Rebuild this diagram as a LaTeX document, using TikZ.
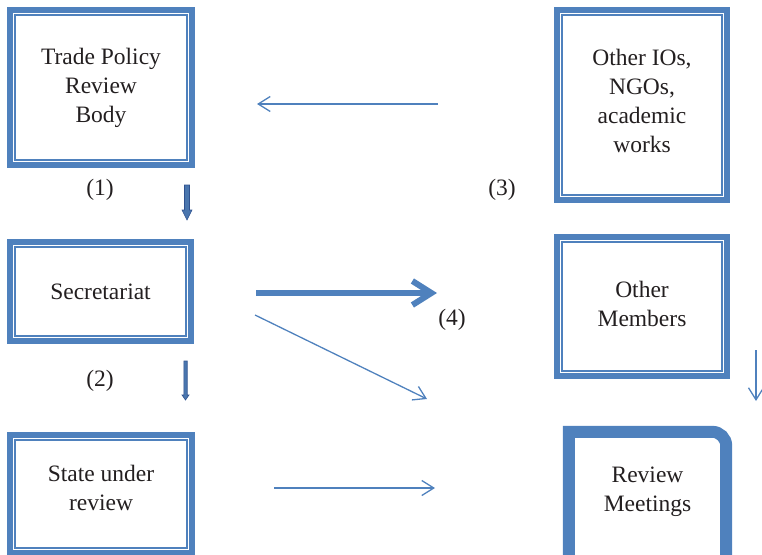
\documentclass[tikz,border=0pt]{standalone}
\usepackage{fontspec}
\setmainfont{Liberation Serif}
\usetikzlibrary{arrows.meta}
\definecolor{boxblue}{HTML}{4F81BD}
\definecolor{darkblue}{HTML}{2F528F}
\definecolor{arrowfill}{HTML}{4A76AE}
\definecolor{ink}{HTML}{231F20}
\begin{document}
\begin{tikzpicture}[x=1pt,y=-1pt,
  every node/.style={font=\fontsize{23.5}{29}\selectfont, text=ink},
  dbox/.style={draw=boxblue, line width=6pt, align=center, inner sep=0pt,
    path picture={\draw[boxblue,line width=1.4pt]
      ([xshift=5pt,yshift=-5pt]path picture bounding box.north west) rectangle
      ([xshift=-5pt,yshift=5pt]path picture bounding box.south east);}},
  thinarrow/.style={boxblue, line width=1.3pt, -{Straight Barb[length=12pt,width=15pt]}},
  thickarrow/.style={boxblue, line width=6pt, -{Straight Barb[length=19pt,width=24pt]}},
  blockarrow/.style={fill=arrowfill, draw=darkblue, line width=0.6pt},
]
\useasboundingbox (0,0) rectangle (762,554);

% boxes
\node[dbox, minimum width=182pt, minimum height=155pt] (tprb) at (101,87.5) {Trade Policy\\Review\\Body};
\node[dbox, minimum width=170pt, minimum height=190pt, text depth=9pt] (ios) at (642,105) {Other IOs,\\NGOs,\\academic\\works};
\node[dbox, minimum width=181pt, minimum height=99pt] (sec) at (100.5,291.5) {Secretariat};
\node[dbox, minimum width=170pt, minimum height=139pt, text depth=6pt] (om) at (642,306.5) {Other\\Members};
\node[dbox, minimum width=182pt, minimum height=118pt, text depth=12pt] (sur) at (101,494) {State under\\review};

% review meetings
\node[align=center, inner sep=0pt, minimum width=157pt, minimum height=120pt] (rm) at (647.5,492) {Review\\Meetings};
\draw[boxblue, line width=12pt]
  ([yshift=-30pt]rm.south west) -- (rm.north west)
  -- ([xshift=-14pt]rm.north east) arc[start angle=90, end angle=0, radius=14pt]
  -- ([yshift=-30pt]rm.south east);

% labels
\node (l1) at (100,190) {(1)};
\node (l2) at (100,381) {(2)};
\node (l3) at (502,190) {(3)};
\node (l4) at (452,320) {(4)};

% thin arrows
\coordinate (a1s) at (438,104); \coordinate (a1e) at (257,104);
\draw[thinarrow] (a1s) -- (a1e);
\coordinate (a5s) at (255,315); \coordinate (a5e) at (427,399);
\draw[thinarrow] (a5s) -- (a5e);
\coordinate (a6s) at (274,488); \coordinate (a6e) at (435,488);
\draw[thinarrow] (a6s) -- (a6e);
\coordinate (a7s) at (756,350); \coordinate (a7e) at (756,401);
\draw[thinarrow] (a7s) -- (a7e);

% thick arrow
\coordinate (a4s) at (256,293); \coordinate (a4e) at (437,293);
\draw[thickarrow] (a4s) -- (a4e);

% block arrows
\filldraw[blockarrow] (184.5,185) -- (189.5,185) -- (189.5,210) -- (192,210)
  -- (187,220) -- (182,210) -- (184.5,210) -- cycle;
\filldraw[blockarrow] (183.8,361) -- (187.2,361) -- (187.2,395) -- (189,395)
  -- (185.5,400) -- (182,395) -- (183.8,395) -- cycle;
\end{tikzpicture}
\end{document}
